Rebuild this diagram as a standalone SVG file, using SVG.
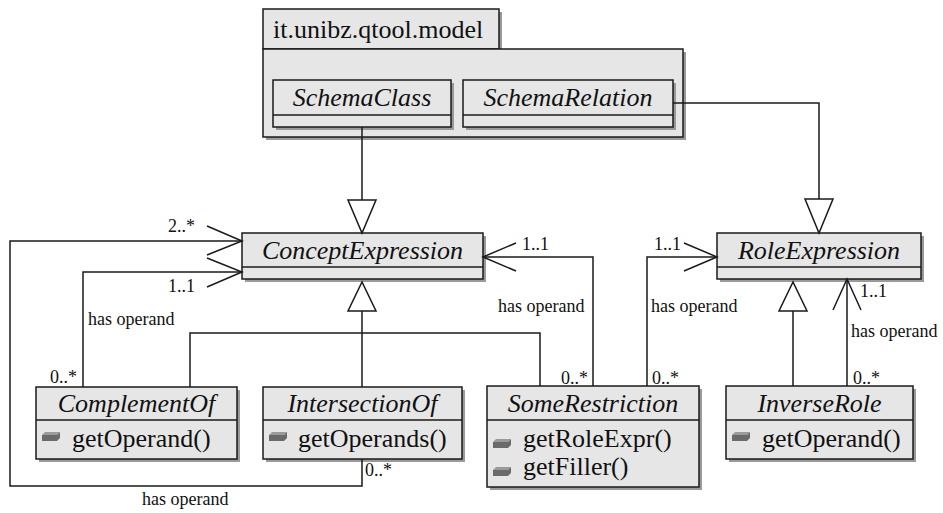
<svg xmlns="http://www.w3.org/2000/svg" width="943" height="513" viewBox="0 0 943 513">
  <style>
    .box { fill: #e6e6e6; stroke: #1a1a1a; stroke-width: 1.5; }
    .shadow { fill: #9a9a9a; }
    .div { stroke: #1a1a1a; stroke-width: 1.5; }
    text { font-family: 'Liberation Serif', 'DejaVu Serif', serif; fill: #111; }
    .name { font-size: 26px; font-style: italic; text-anchor: middle; }
    .pkg { font-size: 26px; }
    .op { font-size: 26px; }
    .lbl { font-size: 18px; }
    .edge { fill: none; stroke: #1a1a1a; stroke-width: 1.5; }
    .gen { fill: #ffffff; stroke: #1a1a1a; stroke-width: 1.5; }
    .icon { fill: #6a6a6a; }
    .iconTop { fill: #9a9a9a; }
  </style>
  <defs>
    <!-- operation marker: flat bevelled block -->
    <g id="opIcon">
      <polygon class="iconTop" points="0,3 3,0 18,0 15,3"/>
      <rect class="icon" x="0" y="3" width="15" height="6"/>
      <polygon class="icon" points="15,3 18,0 18,6 15,9"/>
    </g>
  </defs>

  <rect width="943" height="513" fill="#ffffff"/>

  <!-- package it.unibz.qtool.model -->
  <g id="pkg-model">
    <rect class="shadow" x="266" y="12" width="236" height="40"/>
    <rect class="shadow" x="266" y="52" width="420" height="88"/>
    <rect class="box" x="263" y="9" width="236" height="40"/>
    <rect class="box" x="263" y="49" width="420" height="88"/>
    <text class="pkg" x="273" y="38" font-family="Liberation Serif">it.unibz.qtool.model</text>
  </g>

  <g id="SchemaClass">
    <rect class="shadow" x="276" y="83" width="178" height="47"/>
    <rect class="box" x="273" y="80" width="178" height="47"/>
    <line class="div" x1="273" y1="115" x2="451" y2="115"/>
    <text class="name" x="362" y="106">SchemaClass</text>
  </g>

  <g id="SchemaRelation">
    <rect class="shadow" x="466" y="83" width="210" height="47"/>
    <rect class="box" x="463" y="80" width="210" height="47"/>
    <line class="div" x1="463" y1="115" x2="673" y2="115"/>
    <text class="name" x="568" y="106">SchemaRelation</text>
  </g>

  <g id="ConceptExpression">
    <rect class="shadow" x="245" y="236" width="241" height="46"/>
    <rect class="box" x="242" y="233" width="241" height="46"/>
    <line class="div" x1="242" y1="267" x2="483" y2="267"/>
    <text class="name" x="362.5" y="259">ConceptExpression</text>
  </g>

  <g id="RoleExpression">
    <rect class="shadow" x="720" y="236" width="204" height="46"/>
    <rect class="box" x="717" y="233" width="204" height="46"/>
    <line class="div" x1="717" y1="267" x2="921" y2="267"/>
    <text class="name" x="819" y="259">RoleExpression</text>
  </g>

  <g id="ComplementOf">
    <rect class="shadow" x="39" y="390" width="201" height="72"/>
    <rect class="box" x="36" y="387" width="201" height="72"/>
    <line class="div" x1="36" y1="420" x2="237" y2="420"/>
    <text class="name" x="136.5" y="412">ComplementOf</text>
    <use href="#opIcon" x="42" y="432"/>
    <text class="op" x="72" y="447">getOperand()</text>
  </g>

  <g id="IntersectionOf">
    <rect class="shadow" x="266" y="390" width="199" height="72"/>
    <rect class="box" x="263" y="387" width="199" height="72"/>
    <line class="div" x1="263" y1="420" x2="462" y2="420"/>
    <text class="name" x="362.5" y="412">IntersectionOf</text>
    <use href="#opIcon" x="269" y="432"/>
    <text class="op" x="298" y="447">getOperands()</text>
  </g>

  <g id="SomeRestriction">
    <rect class="shadow" x="490" y="389" width="212" height="101"/>
    <rect class="box" x="487" y="386" width="212" height="101"/>
    <line class="div" x1="487" y1="420" x2="699" y2="420"/>
    <text class="name" x="593" y="412">SomeRestriction</text>
    <use href="#opIcon" x="493" y="439"/>
    <text class="op" x="523" y="447">getRoleExpr()</text>
    <use href="#opIcon" x="493" y="467"/>
    <text class="op" x="523" y="475">getFiller()</text>
  </g>

  <g id="InverseRole">
    <rect class="shadow" x="729" y="389" width="187" height="73"/>
    <rect class="box" x="726" y="386" width="187" height="73"/>
    <line class="div" x1="726" y1="420" x2="913" y2="420"/>
    <text class="name" x="819.5" y="412">InverseRole</text>
    <use href="#opIcon" x="732" y="432"/>
    <text class="op" x="762" y="447">getOperand()</text>
  </g>

  <g id="connectors">
    <!-- generalizations -->
    <line class="edge" x1="362" y1="127" x2="362" y2="200"/>
    <polygon class="gen" points="348,200 376,200 362,233"/>

    <polyline class="edge" points="673,103 819,103 819,199"/>
    <polygon class="gen" points="805,199 833,199 819,233"/>

    <polyline class="edge" points="190,387 190,333 540,333 540,386"/>
    <line class="edge" x1="362" y1="311" x2="362" y2="387"/>
    <polygon class="gen" points="348,311 376,311 362,282"/>

    <line class="edge" x1="793" y1="311" x2="793" y2="386"/>
    <polygon class="gen" points="779,311 807,311 793,282"/>

    <!-- has operand associations -->
    <polyline class="edge" points="362,459 362,486 10,486 10,241 242,241"/>
    <polyline class="edge" points="207,226 242,241 207,255"/>

    <polyline class="edge" points="83,387 83,272 242,272"/>
    <polyline class="edge" points="207,258 242,272 207,287"/>

    <polyline class="edge" points="593,386 593,257 483,257"/>
    <polyline class="edge" points="516,243 483,257 516,271"/>

    <polyline class="edge" points="647,386 647,257 717,257"/>
    <polyline class="edge" points="684,243 717,257 684,271"/>

    <line class="edge" x1="847" y1="386" x2="847" y2="279"/>
    <polyline class="edge" points="833,310 847,279 861,310"/>

    <!-- association labels -->
    <text class="lbl" x="168" y="232">2..*</text>
    <text class="lbl" x="168" y="292">1..1</text>
    <text class="lbl" x="88" y="325">has operand</text>
    <text class="lbl" x="50" y="383">0..*</text>
    <text class="lbl" x="365" y="476">0..*</text>
    <text class="lbl" x="142" y="505">has operand</text>
    <text class="lbl" x="522" y="250">1..1</text>
    <text class="lbl" x="498" y="312">has operand</text>
    <text class="lbl" x="561" y="384">0..*</text>
    <text class="lbl" x="654" y="250">1..1</text>
    <text class="lbl" x="651" y="312">has operand</text>
    <text class="lbl" x="652" y="384">0..*</text>
    <text class="lbl" x="860" y="297">1..1</text>
    <text class="lbl" x="851" y="337">has operand</text>
    <text class="lbl" x="853" y="384">0..*</text>
  </g>
</svg>
